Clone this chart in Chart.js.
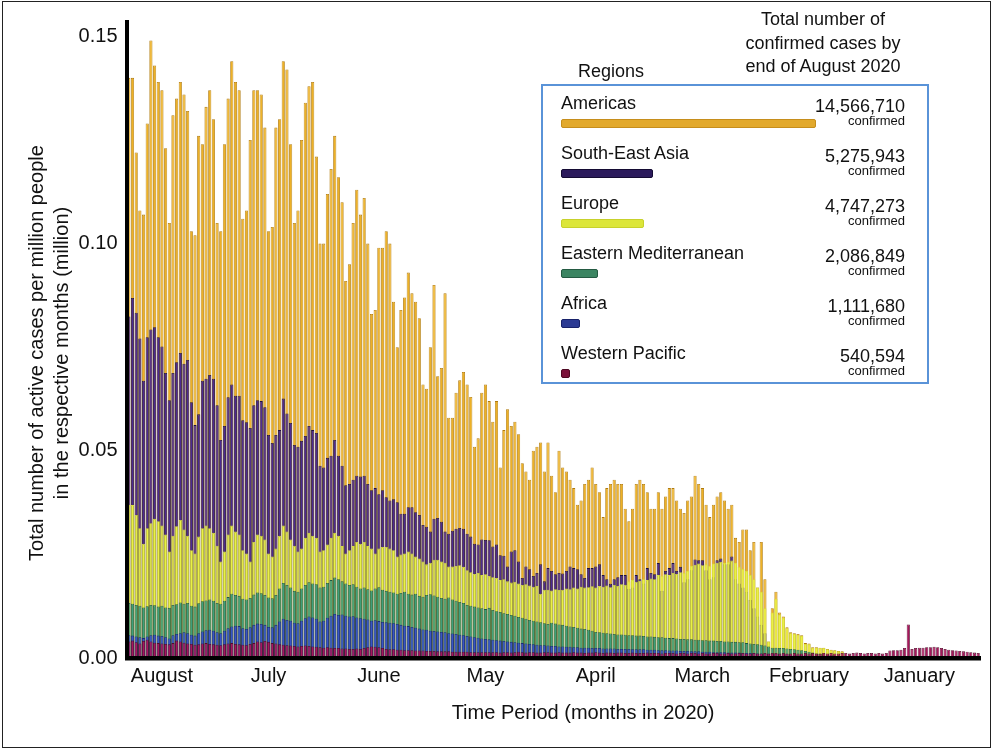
<!DOCTYPE html>
<html>
<head>
<meta charset="utf-8">
<script src="https://cdn.jsdelivr.net/npm/chart.js@4.4.1/dist/chart.umd.min.js"></script>
<style>
  body { margin: 0; background: #fff; }
  #wrap { position: relative; width: 994px; height: 751px; overflow: hidden; background: #fff;
          font-family: "Liberation Sans", Arial, Helvetica, sans-serif; color: #111; }
  #frame { position: absolute; left: 2px; top: 1px; width: 989px; height: 747px;
           border: 1.5px solid #222; box-sizing: border-box; pointer-events: none; }
  canvas { position: absolute; left: 0; top: 0; }
  .t { position: absolute; white-space: nowrap; }
  #ytitle { left: -201.5px; top: 328px; width: 500px; height: 50px; font-size: 20px; line-height: 25px;
            text-align: center; transform: rotate(-90deg); }
  #xtitle { left: 383px; top: 700px; width: 400px; font-size: 20px; line-height: 24px; text-align: center; }
  #regHead { left: 551px; top: 60px; width: 120px; font-size: 18px; line-height: 22px; text-align: center; }
  #totHead { left: 713px; top: 8px; width: 220px; font-size: 18px; line-height: 23.5px; text-align: center; }
  #legendBox { position: absolute; left: 541px; top: 84px; width: 388px; height: 300px;
               border: 2.5px solid #5A93D8; box-sizing: border-box; background: #fff; }
  .lname { font-size: 18px; line-height: 18px; }
  .lnum { font-size: 18px; line-height: 18px; text-align: right; width: 150px; }
  .lconf { font-size: 13px; line-height: 13px; text-align: right; width: 150px; }
  .lbar { position: absolute; height: 9px; border-radius: 2px; box-sizing: border-box; border: 1px solid; }
</style>
</head>
<body>
<div id="wrap">
  <canvas id="c" width="994" height="751"></canvas>
  <div id="frame"></div>
  <div class="t" id="ytitle">Total number of active cases per million people<br>in the respective months (million)</div>
  <div class="t" id="xtitle">Time Period (months in 2020)</div>
  <div class="t" id="regHead">Regions</div>
  <div class="t" id="totHead">Total number of<br>confirmed cases by<br>end of August 2020</div>
  <div id="legendBox"></div>
  <div id="legend"></div>
</div>
<script>
// Daily active cases per million people (million), newest day (31 Aug 2020) first.
const americas = [
  0.140, 0.140, 0.122, 0.108, 0.107, 0.129, 0.149, 0.143, 0.139, 0.137,
  0.123, 0.105, 0.131, 0.135, 0.139, 0.136, 0.132, 0.103, 0.102, 0.126,
  0.124, 0.133, 0.137, 0.130, 0.105, 0.103, 0.124, 0.135, 0.144, 0.139,
  0.137, 0.106, 0.108, 0.125, 0.137, 0.137, 0.136, 0.128, 0.103, 0.104,
  0.128, 0.130, 0.144, 0.142, 0.124, 0.105, 0.108, 0.125, 0.134, 0.138,
  0.139, 0.121, 0.100, 0.100, 0.112, 0.118, 0.126, 0.116, 0.110, 0.091,
  0.095, 0.105, 0.113, 0.107, 0.111, 0.100, 0.083, 0.084, 0.099, 0.099,
  0.103, 0.100, 0.086, 0.075, 0.084, 0.087, 0.093, 0.088, 0.086, 0.082,
  0.066, 0.065, 0.075, 0.090, 0.068, 0.070, 0.088, 0.058, 0.058, 0.064,
  0.067, 0.069, 0.066, 0.063, 0.051, 0.053, 0.064, 0.066, 0.062, 0.057,
  0.062, 0.046, 0.055, 0.060, 0.056, 0.057, 0.054, 0.047, 0.045, 0.043,
  0.050, 0.051, 0.052, 0.045, 0.052, 0.044, 0.040, 0.050, 0.046, 0.045,
  0.043, 0.041, 0.037, 0.038, 0.042, 0.043, 0.046, 0.042, 0.040, 0.034,
  0.041, 0.042, 0.043, 0.042, 0.042, 0.036, 0.033, 0.036, 0.042, 0.043,
  0.042, 0.040, 0.036, 0.036, 0.040, 0.036, 0.039, 0.041, 0.041, 0.038,
  0.036, 0.035, 0.038, 0.039, 0.044, 0.042, 0.041, 0.037, 0.034, 0.037,
  0.039, 0.040, 0.038, 0.036, 0.037, 0.029, 0.028, 0.031, 0.031, 0.026,
  0.028, 0.017, 0.028, 0.019, 0.004, 0.012, 0.016, 0.011, 0.010, 0.0074,
  0.0062, 0.0060, 0.0058, 0.0055, 0.0036, 0.0035, 0.0026, 0.0026, 0.0025, 0.0025,
  0.0022, 0.0020, 0.0019, 0.0017, 0.0016, 0, 0, 0, 0, 0,
  0, 0, 0, 0, 0, 0, 0, 0, 0, 0,
  0, 0, 0, 0, 0, 0, 0, 0, 0, 0,
  0, 0, 0, 0, 0, 0, 0, 0, 0, 0,
  0, 0
];
const southEastAsia = [
  0.0824, 0.0869, 0.0833, 0.0771, 0.0669, 0.0774, 0.0793, 0.0798, 0.0774, 0.0752,
  0.0688, 0.0622, 0.0688, 0.0714, 0.0736, 0.0710, 0.0719, 0.0617, 0.0562, 0.0588,
  0.0669, 0.0674, 0.0683, 0.0674, 0.0610, 0.0526, 0.0560, 0.0629, 0.0660, 0.0633,
  0.0633, 0.0574, 0.0569, 0.0555, 0.0610, 0.0622, 0.0620, 0.0605, 0.0538, 0.0519,
  0.0538, 0.0550, 0.0626, 0.0590, 0.0567, 0.0514, 0.0510, 0.0524, 0.0536, 0.0560,
  0.0550, 0.0543, 0.0464, 0.0460, 0.0483, 0.0488, 0.0526, 0.0488, 0.0464, 0.0417,
  0.0420, 0.0430, 0.0440, 0.0438, 0.0440, 0.0420, 0.0405, 0.0410, 0.0395, 0.0405,
  0.0388, 0.0380, 0.0383, 0.0376, 0.0348, 0.0348, 0.0364, 0.0364, 0.0352, 0.0345,
  0.0321, 0.0317, 0.0305, 0.0336, 0.0338, 0.0329, 0.0305, 0.0300, 0.0307, 0.0312,
  0.0314, 0.0312, 0.0300, 0.0293, 0.0276, 0.0274, 0.0286, 0.0285, 0.0284, 0.0269,
  0.0274, 0.0248, 0.0247, 0.0221, 0.0257, 0.0260, 0.0233, 0.0193, 0.0221, 0.0214,
  0.0198, 0.0205, 0.0226, 0.0185, 0.0217, 0.0210, 0.0202, 0.0205, 0.0204, 0.0210,
  0.0221, 0.0217, 0.0214, 0.0202, 0.0193, 0.0217, 0.0217, 0.0221, 0.0226, 0.0200,
  0.0190, 0.0179, 0.0190, 0.0195, 0.0200, 0.0200, 0.0167, 0.0170, 0.0200, 0.0190,
  0.0180, 0.0217, 0.0205, 0.0202, 0.0229, 0.0162, 0.0210, 0.0217, 0.0229, 0.0210,
  0.0220, 0.0183, 0.0190, 0.0212, 0.0238, 0.0236, 0.0236, 0.0212, 0.0190, 0.0195,
  0.0236, 0.0240, 0.0226, 0.0226, 0.0245, 0.0190, 0.0180, 0.0170, 0.0160, 0.0140,
  0.0120, 0.0100, 0.0080, 0.0060, 0.0020, 0.0005, 0.0005, 0.0005, 0.0005, 0.0005,
  0.0004, 0.0004, 0.0004, 0.0003, 0.0003, 0.0003, 0.0003, 0.0002, 0.0002, 0.0002,
  0.0002, 0.0001, 0.0001, 0.0001, 0.0001, 0, 0, 0, 0, 0,
  0, 0, 0, 0, 0, 0, 0, 0, 0, 0,
  0, 0, 0, 0, 0, 0, 0, 0, 0, 0,
  0, 0, 0, 0, 0, 0, 0, 0, 0, 0,
  0, 0
];
const europe = [
  0.0370, 0.0369, 0.0345, 0.0313, 0.0276, 0.0313, 0.0325, 0.0336, 0.0330, 0.0320,
  0.0298, 0.0257, 0.0295, 0.0318, 0.0333, 0.0310, 0.0295, 0.0260, 0.0252, 0.0293,
  0.0313, 0.0320, 0.0313, 0.0302, 0.0271, 0.0233, 0.0257, 0.0298, 0.0320, 0.0305,
  0.0298, 0.0260, 0.0252, 0.0233, 0.0280, 0.0298, 0.0295, 0.0286, 0.0252, 0.0245,
  0.0264, 0.0295, 0.0320, 0.0305, 0.0286, 0.0271, 0.0257, 0.0264, 0.0290, 0.0302,
  0.0295, 0.0290, 0.0257, 0.0260, 0.0274, 0.0290, 0.0302, 0.0295, 0.0270, 0.0252,
  0.0260, 0.0270, 0.0280, 0.0276, 0.0280, 0.0270, 0.0264, 0.0252, 0.0264, 0.0268,
  0.0268, 0.0264, 0.0260, 0.0245, 0.0250, 0.0252, 0.0257, 0.0252, 0.0245, 0.0240,
  0.0233, 0.0226, 0.0230, 0.0237, 0.0237, 0.0233, 0.0230, 0.0221, 0.0221, 0.0222,
  0.0224, 0.0220, 0.0212, 0.0207, 0.0203, 0.0205, 0.0200, 0.0202, 0.0198, 0.0195,
  0.0193, 0.0188, 0.0190, 0.0185, 0.0182, 0.0184, 0.0180, 0.0176, 0.0178, 0.0175,
  0.0172, 0.0174, 0.0155, 0.0165, 0.0165, 0.0163, 0.0166, 0.0164, 0.0165, 0.0168,
  0.0166, 0.0170, 0.0168, 0.0172, 0.0170, 0.0171, 0.0173, 0.0170, 0.0174, 0.0172,
  0.0175, 0.0171, 0.0176, 0.0174, 0.0178, 0.0177, 0.0185, 0.0188, 0.0184, 0.0186,
  0.0190, 0.0188, 0.0192, 0.0190, 0.0200, 0.0198, 0.0202, 0.0200, 0.0205, 0.0203,
  0.0207, 0.0205, 0.0210, 0.0222, 0.0225, 0.0228, 0.0224, 0.0226, 0.0222, 0.0228,
  0.0230, 0.0232, 0.0230, 0.0232, 0.0235, 0.0230, 0.0220, 0.0215, 0.0210, 0.0200,
  0.0190, 0.0170, 0.0160, 0.0120, 0.0040, 0.0110, 0.0143, 0.0105, 0.0098, 0.0072,
  0.0060, 0.0058, 0.0056, 0.0053, 0.0034, 0.0033, 0.0025, 0.0025, 0.0024, 0.0024,
  0.0021, 0.0019, 0.0018, 0.0016, 0.0015, 0, 0, 0, 0, 0,
  0, 0, 0, 0, 0, 0, 0, 0, 0, 0,
  0, 0, 0, 0, 0, 0, 0, 0, 0, 0,
  0, 0, 0, 0, 0, 0, 0, 0, 0, 0,
  0, 0
];
const easternMediterranean = [
  0.0133, 0.0131, 0.0128, 0.0126, 0.0122, 0.0125, 0.0128, 0.0127, 0.0124, 0.0126,
  0.0122, 0.0121, 0.0128, 0.0130, 0.0134, 0.0131, 0.0133, 0.0126, 0.0124, 0.0132,
  0.0137, 0.0139, 0.0141, 0.0138, 0.0133, 0.0131, 0.0138, 0.0147, 0.0155, 0.0152,
  0.0150, 0.0143, 0.0141, 0.0145, 0.0153, 0.0158, 0.0156, 0.0152, 0.0146, 0.0144,
  0.0152, 0.0168, 0.0181, 0.0176, 0.0170, 0.0162, 0.0160, 0.0168, 0.0176, 0.0183,
  0.0180, 0.0178, 0.0170, 0.0172, 0.0181, 0.0188, 0.0194, 0.0190, 0.0185, 0.0180,
  0.0176, 0.0178, 0.0172, 0.0168, 0.0170, 0.0166, 0.0163, 0.0168, 0.0171, 0.0165,
  0.0162, 0.0160, 0.0158, 0.0155, 0.0157, 0.0160, 0.0155, 0.0153, 0.0155, 0.0150,
  0.0148, 0.0152, 0.0154, 0.0151, 0.0148, 0.0145, 0.0143, 0.0146, 0.0141, 0.0138,
  0.0135, 0.0133, 0.0128, 0.0126, 0.0124, 0.0122, 0.0120, 0.0118, 0.0121, 0.0116,
  0.0113, 0.0111, 0.0108, 0.0106, 0.0104, 0.0102, 0.0099, 0.0097, 0.0095, 0.0092,
  0.0090, 0.0088, 0.0086, 0.0084, 0.0082, 0.0085, 0.0083, 0.0081, 0.0080, 0.0078,
  0.0076, 0.0075, 0.0073, 0.0071, 0.0070, 0.0068, 0.0066, 0.0063, 0.0062, 0.0061,
  0.0060, 0.0059, 0.0058, 0.0057, 0.0057, 0.0056, 0.0055, 0.0055, 0.0054, 0.0054,
  0.0053, 0.0052, 0.0052, 0.0051, 0.0050, 0.0050, 0.0049, 0.0048, 0.0048, 0.0047,
  0.0046, 0.0046, 0.0045, 0.0045, 0.0044, 0.0044, 0.0043, 0.0043, 0.0042, 0.0042,
  0.0041, 0.0041, 0.0040, 0.0040, 0.0039, 0.0039, 0.0038, 0.0038, 0.0036, 0.0035,
  0.0034, 0.0033, 0.0032, 0.0030, 0.0028, 0.0025, 0.0025, 0.0024, 0.0024, 0.0023,
  0.0022, 0.0021, 0.0020, 0.0019, 0.0017, 0.0015, 0.0013, 0.0011, 0.0010, 0.0009,
  0.0008, 0.0007, 0.0006, 0.0005, 0.0004, 0, 0, 0, 0, 0,
  0, 0, 0, 0, 0, 0, 0, 0, 0, 0,
  0, 0, 0, 0, 0, 0, 0, 0, 0, 0,
  0, 0, 0, 0, 0, 0, 0, 0, 0, 0,
  0, 0
];
const africa = [
  0.0055, 0.0054, 0.0052, 0.0050, 0.0048, 0.0052, 0.0055, 0.0056, 0.0054, 0.0053,
  0.0050, 0.0047, 0.0055, 0.0058, 0.0060, 0.0062, 0.0060, 0.0056, 0.0054, 0.0060,
  0.0064, 0.0067, 0.0068, 0.0066, 0.0062, 0.0060, 0.0066, 0.0072, 0.0076, 0.0078,
  0.0077, 0.0072, 0.0070, 0.0074, 0.0080, 0.0083, 0.0082, 0.0080, 0.0075, 0.0074,
  0.0080, 0.0088, 0.0095, 0.0092, 0.0090, 0.0085, 0.0084, 0.0090, 0.0096, 0.0100,
  0.0098, 0.0095, 0.0088, 0.0090, 0.0097, 0.0102, 0.0106, 0.0104, 0.0105, 0.0102,
  0.0100, 0.0101, 0.0098, 0.0096, 0.0095, 0.0093, 0.0090, 0.0091, 0.0089, 0.0087,
  0.0086, 0.0085, 0.0084, 0.0082, 0.0080, 0.0078, 0.0077, 0.0075, 0.0073, 0.0071,
  0.0069, 0.0068, 0.0066, 0.0065, 0.0064, 0.0063, 0.0062, 0.0060, 0.0059, 0.0058,
  0.0056, 0.0055, 0.0053, 0.0052, 0.0050, 0.0049, 0.0047, 0.0046, 0.0045, 0.0044,
  0.0043, 0.0042, 0.0041, 0.0040, 0.0039, 0.0038, 0.0037, 0.0036, 0.0035, 0.0034,
  0.0033, 0.0032, 0.0031, 0.0031, 0.0030, 0.0029, 0.0029, 0.0028, 0.0028, 0.0027,
  0.0027, 0.0026, 0.0026, 0.0025, 0.0025, 0.0025, 0.0024, 0.0024, 0.0024, 0.0023,
  0.0023, 0.0023, 0.0023, 0.0022, 0.0022, 0.0022, 0.0022, 0.0021, 0.0021, 0.0021,
  0.0021, 0.0020, 0.0020, 0.0020, 0.0019, 0.0019, 0.0019, 0.0018, 0.0018, 0.0018,
  0.0017, 0.0017, 0.0017, 0.0016, 0.0016, 0.0016, 0.0015, 0.0015, 0.0015, 0.0014,
  0.0014, 0.0014, 0.0014, 0.0013, 0.0013, 0.0013, 0.0013, 0.0012, 0.0012, 0.0012,
  0.0012, 0.0011, 0.0011, 0.0011, 0.0010, 0.0010, 0.0010, 0.0009, 0.0009, 0.0009,
  0.0008, 0.0008, 0.0008, 0.0007, 0.0007, 0.0006, 0.0006, 0.0005, 0.0005, 0.0005,
  0.0004, 0.0004, 0.0003, 0.0003, 0.0002, 0, 0, 0, 0, 0,
  0, 0, 0, 0, 0, 0, 0, 0, 0, 0,
  0, 0, 0, 0, 0, 0, 0, 0, 0, 0,
  0, 0, 0, 0, 0, 0, 0, 0, 0, 0,
  0, 0
];
const westernPacific = [
  0.0040, 0.0042, 0.0038, 0.0035, 0.0041, 0.0044, 0.0040, 0.0037, 0.0036, 0.0035,
  0.0034, 0.0033, 0.0036, 0.0042, 0.0040, 0.0037, 0.0035, 0.0034, 0.0032, 0.0033,
  0.0035, 0.0036, 0.0034, 0.0033, 0.0032, 0.0031, 0.0033, 0.0035, 0.0036, 0.0034,
  0.0033, 0.0032, 0.0031, 0.0034, 0.0036, 0.0040, 0.0038, 0.0041, 0.0039, 0.0036,
  0.0035, 0.0033, 0.0032, 0.0031, 0.0030, 0.0029, 0.0028, 0.0029, 0.0030, 0.0029,
  0.0028, 0.0027, 0.0026, 0.0025, 0.0026, 0.0025, 0.0024, 0.0024, 0.0023, 0.0023,
  0.0022, 0.0022, 0.0023, 0.0022, 0.0024, 0.0026, 0.0028, 0.0027, 0.0026, 0.0024,
  0.0022, 0.0021, 0.0021, 0.0020, 0.0020, 0.0019, 0.0019, 0.0019, 0.0018, 0.0018,
  0.0018, 0.0017, 0.0017, 0.0017, 0.0016, 0.0016, 0.0016, 0.0016, 0.0015, 0.0015,
  0.0015, 0.0015, 0.0015, 0.0014, 0.0014, 0.0014, 0.0014, 0.0014, 0.0014, 0.0014,
  0.0014, 0.0013, 0.0014, 0.0014, 0.0013, 0.0014, 0.0015, 0.0014, 0.0013, 0.0014,
  0.0014, 0.0013, 0.0013, 0.0014, 0.0014, 0.0013, 0.0013, 0.0014, 0.0013, 0.0013,
  0.0013, 0.0014, 0.0013, 0.0013, 0.0012, 0.0013, 0.0013, 0.0014, 0.0013, 0.0012,
  0.0013, 0.0013, 0.0012, 0.0013, 0.0013, 0.0012, 0.0012, 0.0013, 0.0012, 0.0012,
  0.0012, 0.0013, 0.0012, 0.0012, 0.0012, 0.0011, 0.0012, 0.0012, 0.0012, 0.0011,
  0.0012, 0.0012, 0.0011, 0.0012, 0.0012, 0.0011, 0.0012, 0.0011, 0.0011, 0.0012,
  0.0012, 0.0011, 0.0011, 0.0012, 0.0011, 0.0011, 0.0012, 0.0012, 0.0011, 0.0011,
  0.0012, 0.0011, 0.0011, 0.0012, 0.0011, 0.0012, 0.0012, 0.0011, 0.0012, 0.0011,
  0.0011, 0.0012, 0.0011, 0.0011, 0.0012, 0.0011, 0.0012, 0.0011, 0.0011, 0.0012,
  0.0011, 0.0012, 0.0011, 0.0011, 0.0012, 0.0012, 0.0011, 0.0012, 0.0013, 0.0012,
  0.0011, 0.0012, 0.0012, 0.0011, 0.0012, 0.0011, 0.0012, 0.0018, 0.0019, 0.0019,
  0.0020, 0.0024, 0.0081, 0.0022, 0.0024, 0.0025, 0.0025, 0.0026, 0.0026, 0.0027,
  0.0026, 0.0024, 0.0022, 0.0020, 0.0019, 0.0018, 0.0017, 0.0016, 0.0015, 0.0014,
  0.0013, 0.0012
];

// Legend: confirmed cases by the end of August 2020
const regions = ['Americas', 'South-East Asia', 'Europe', 'Eastern Mediterranean', 'Africa', 'Western Pacific'];
const confirmedTotals = [14566710, 5275943, 4747273, 2086849, 1111680, 540594];

// Month names on the time axis, keyed by the day they sit under
const monthTicks = {
  '2020-08-22': 'August', '2020-07-24': 'July', '2020-06-24': 'June', '2020-05-26': 'May',
  '2020-04-26': 'April', '2020-03-28': 'March', '2020-02-28': 'February', '2020-01-29': 'January'
};

const seriesList = [americas, southEastAsia, europe, easternMediterranean, africa, westernPacific];
seriesList.forEach((s, k) => { if (s.length !== americas.length) throw new Error('series ' + k + ' has ' + s.length + ' values'); });

// One category per day, counting back from 31 August 2020
const lastDay = Date.UTC(2020, 7, 31);
const days = americas.map((_, i) => new Date(lastDay - i * 86400000).toISOString().slice(0, 10));

const fills   = ['#EDB126', '#4B2B92', '#E9F244', '#3F9E7E', '#3A52C8', '#A8165C'];
const borders = ['#B07A0C', '#1D1040', '#D7DF3A', '#1E5A44', '#1C2A7A', '#540A2C'];
const legendFills   = ['#E2A92C', '#2B1A5C', '#DCE63A', '#3B8562', '#2B3A93', '#7A1039'];
const legendBorders = ['#C68E1C', '#140B33', '#C7D12C', '#245A42', '#18226A', '#4E0822'];

const FONT = '"Liberation Sans", Arial, Helvetica, sans-serif';

// Bars overlap at each day; the tallest region is drawn first, smaller ones in front.
new Chart(document.getElementById('c'), {
  type: 'bar',
  data: {
    labels: days,
    datasets: regions.map((name, k) => ({
      label: name,
      data: seriesList[k],
      backgroundColor: fills[k],
      borderColor: borders[k],
      borderWidth: { left: 0.8, right: 0.8, top: 0.8, bottom: 0 },
      borderSkipped: 'bottom',
      grouped: false,
      order: regions.length - k,
      categoryPercentage: 1,
      barPercentage: 0.86
    }))
  },
  options: {
    responsive: false,
    animation: false,
    layout: { padding: { top: 15, right: 14, left: 0, bottom: 0 } },
    plugins: { legend: { display: false }, tooltip: { enabled: false } },
    scales: {
      x: {
        grid: { display: false, drawTicks: false },
        border: { display: true, color: '#000', width: 4.5, z: 1 },
        ticks: {
          autoSkip: false, maxRotation: 0, minRotation: 0, padding: 6, color: '#111',
          font: { family: FONT, size: 20 },
          callback: function (v) { return monthTicks[this.getLabelForValue(v)] || ''; }
        },
        afterFit: (s) => { s.height = 93; }
      },
      y: {
        min: 0, max: 0.1536,
        grid: { display: false, drawTicks: false },
        border: { display: true, color: '#000', width: 4, z: 1 },
        ticks: {
          stepSize: 0.05, includeBounds: false, padding: 9.5, color: '#111',
          font: { family: FONT, size: 20 },
          callback: (v) => v.toFixed(2)
        },
        afterFit: (s) => { s.width = 127; }
      }
    }
  }
});

// Legend panel: one row per region, bar length proportional to confirmed cases
const legend = document.getElementById('legend');
const maxTotal = Math.max(...confirmedTotals);
regions.forEach((name, k) => {
  const nameY = 103 + k * 50;
  const add = (cls, text, left, centerY, size) => {
    const d = document.createElement('div');
    d.className = 't ' + cls;
    d.textContent = text;
    d.style.left = left + 'px';
    d.style.top = (centerY - size / 2) + 'px';
    legend.appendChild(d);
  };
  add('lname', name, 561, nameY, 18);
  add('lnum', confirmedTotals[k].toLocaleString('en-US'), 755, nameY + 2.5, 18);
  add('lconf', 'confirmed', 755, nameY + 17, 13);
  const bar = document.createElement('div');
  bar.className = 'lbar';
  bar.style.left = '561px';
  bar.style.top = (nameY + 15.5) + 'px';
  bar.style.width = Math.max(9, confirmedTotals[k] / maxTotal * 255) + 'px';
  bar.style.background = legendFills[k];
  bar.style.borderColor = legendBorders[k];
  legend.appendChild(bar);
});
</script>
</body>
</html>
